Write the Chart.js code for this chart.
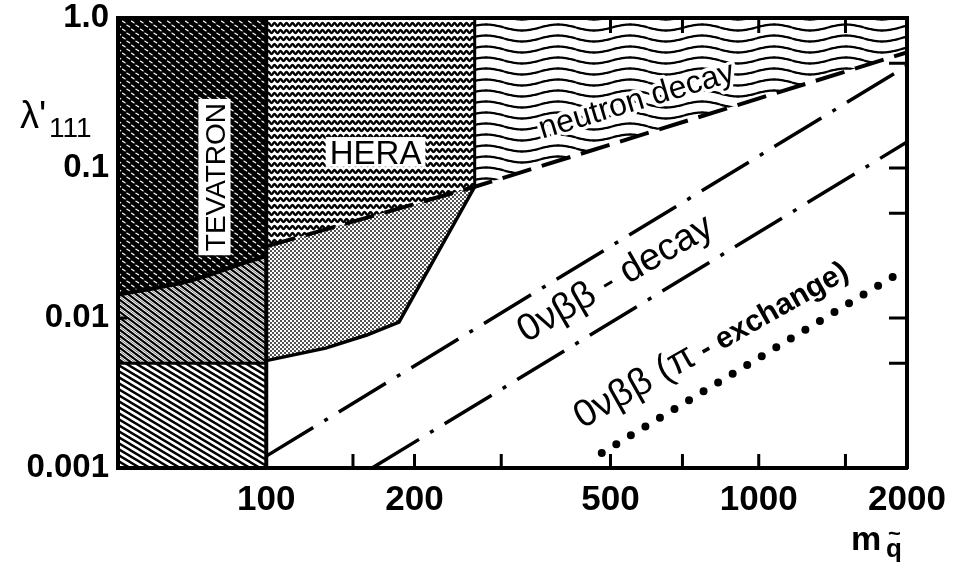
<!DOCTYPE html>
<html>
<head>
<meta charset="utf-8">
<script src="https://cdn.jsdelivr.net/npm/chart.js@4.4.1/dist/chart.umd.min.js"></script>
<style>
  html, body { margin: 0; padding: 0; background: #fff; }
  #wrap { width: 968px; height: 567px; }
</style>
</head>
<body>
<div id="wrap"><canvas id="limits" width="968" height="567"></canvas></div>
<script>
// axis ticks
const massTicks = [100, 200, 500, 1000, 2000];
const couplingTicks = [0.001, 0.01, 0.1, 1];
const couplingTickLabels = ['0.001', '0.01', '0.1', '1.0'];
const bottomMinorMasses = [150, 200, 300, 500, 700, 1000, 1500];
const topMinorMasses = [500, 700, 1000, 1500];
const rightMinorCouplings = [0.005, 0.01, 0.05, 0.1, 0.5];
const leftMinorCouplings = [0.01];

// TEVATRON excluded region (lower edge)
const tevatronMass = [50, 69, 89, 100];
const tevatronLimit = [0.0143, 0.0175, 0.023, 0.026];
// hatched split between the two low-mass bands
const splitMass = [50, 100];
const splitLimit = [0.005, 0.005];
// neutron decay bound
const neutronMass = [100, 265, 2000];
const neutronLimit = [0.03, 0.075, 0.59];
// HERA contact region lower edge
const heraMass = [100, 132, 160, 186, 265];
const heraLimit = [0.0052, 0.0063, 0.0077, 0.0094, 0.075];
// HERA right edge
const heraEdgeMass = [265, 265];
const heraEdgeLimit = [0.075, 1];
// 0vbb decay, two bands
const dbdUpperMass = [100, 2000];
const dbdUpperLimit = [0.0012, 0.48];
const dbdLowerMass = [164, 2000];
const dbdLowerLimit = [0.001, 0.149];
// 0vbb pion exchange
const pionMass = [480, 1930];
const pionLimit = [0.00126, 0.02];
// vertical line at 100 GeV
const wallMass = [100, 100];
const wallLimit = [0.001, 1];

const pts = (xs, ys) => xs.map((v, i) => ({ x: v, y: ys[i] }));

const canvas = document.getElementById('limits');
const ctx0 = canvas.getContext('2d');

function makePattern(w, h, draw) {
  const c = document.createElement('canvas');
  c.width = w; c.height = h;
  const g = c.getContext('2d');
  g.fillStyle = '#fff';
  g.fillRect(0, 0, w, h);
  draw(g, w, h);
  return ctx0.createPattern(c, 'repeat');
}

function hatch(g, w, h, lw) {
  g.strokeStyle = '#000';
  g.lineWidth = lw;
  g.beginPath();
  for (let k = -2; k <= 2; k++) {
    g.moveTo(k * w - w, -h);
    g.lineTo(k * w + 2 * w, 2 * h);
  }
  g.stroke();
}

const tevatronFill = makePattern(9, 8, (g, w, h) => {
  g.fillStyle = '#000';
  g.fillRect(0, 0, w, h);
  g.strokeStyle = '#fff';
  g.lineWidth = 1.3;
  g.lineCap = 'round';
  g.beginPath();
  g.moveTo(1, 1.2); g.lineTo(3.6, 2.8);
  g.moveTo(5.6, 5.2); g.lineTo(8, 6.8);
  g.stroke();
});

const heraFill = makePattern(6, 7, (g, w, h) => {
  g.strokeStyle = '#000';
  g.lineWidth = 2.3;
  g.beginPath();
  for (let x = -1; x <= w + 1; x += 0.5) {
    const y = 3.5 + 1.4 * Math.sin(2 * Math.PI * x / w);
    if (x === -1) g.moveTo(x, y); else g.lineTo(x, y);
  }
  g.stroke();
});

const stippleFill = makePattern(4, 4, (g) => {
  g.fillStyle = '#000';
  [[1, 1], [3, 3]].forEach(([x, y]) => {
    g.beginPath(); g.arc(x, y, 0.9, 0, 2 * Math.PI); g.fill();
  });
});

const fineHatchFill = makePattern(8, 6, (g, w, h) => {
  g.save();
  g.translate(w / 2, 0);
  g.strokeStyle = '#777';
  g.lineWidth = 1;
  g.beginPath();
  for (let k = -2; k <= 2; k++) { g.moveTo(k * w - w, -h); g.lineTo(k * w + 2 * w, 2 * h); }
  g.stroke();
  g.restore();
  hatch(g, w, h, 2.2);
});

const coarseHatchFill = makePattern(10, 6, (g, w, h) => hatch(g, w, h, 2.4));

const neutronFill = makePattern(72, 11, (g, w, h) => {
  g.strokeStyle = '#000';
  g.lineWidth = 2.3;
  [-h, 0, h].forEach(oy => {
    g.beginPath();
    for (let x = 0; x <= w; x += 1) {
      const y = oy + h / 2 + 3 * Math.sin(2 * Math.PI * x / w);
      if (x === 0) g.moveTo(x, y); else g.lineTo(x, y);
    }
    g.stroke();
  });
});

const line = (data, width, extra) => Object.assign({
  data, borderColor: '#000', borderWidth: width, pointRadius: 0,
  fill: false, tension: 0, order: 0
}, extra || {});
const area = (data, fill, bg) => ({
  data, fill, backgroundColor: bg, borderColor: 'rgba(0,0,0,0)',
  borderWidth: 0, pointRadius: 0, tension: 0, order: 10
});

const datasets = [];
datasets.push(line(pts(neutronMass, neutronLimit), 4, { borderDash: [30, 11] }));
datasets.push(line(pts(tevatronMass, tevatronLimit), 4, { tension: 0.3 }));
datasets.push(line(pts(splitMass, splitLimit), 3));
datasets.push(line(pts(heraMass, heraLimit), 3.5));
datasets.push(line(pts(wallMass, wallLimit), 4));
datasets.push(line(pts(heraEdgeMass, heraEdgeLimit), 3));
datasets.push(line(pts(dbdUpperMass, dbdUpperLimit), 3.5, { borderDash: [55, 13, 4, 13] }));
datasets.push(line(pts(dbdLowerMass, dbdLowerLimit), 3.5, { borderDash: [55, 13, 4, 13] }));
datasets.push(line(pts(pionMass, pionLimit), 8, { borderDash: [0, 17], borderCapStyle: 'round' }));

const tevIdx = datasets.push(area(pts(tevatronMass, tevatronLimit), 'end', tevatronFill)) - 1;
datasets[tevIdx].tension = 0.3;
datasets.push(area(pts(splitMass, splitLimit), tevIdx, fineHatchFill));
datasets.push(area(pts(splitMass, splitLimit), 'start', coarseHatchFill));
const heraIdx = datasets.push(area(pts(neutronMass.slice(0, 2), neutronLimit.slice(0, 2)), 'end', heraFill)) - 1;
datasets.push(area(pts(heraMass, heraLimit), heraIdx, stippleFill));
datasets.push(area(pts(neutronMass.slice(1), neutronLimit.slice(1)), 'end', neutronFill));

const FONT = '"Liberation Sans", Arial, Helvetica, sans-serif';

const tickMarks = {
  id: 'tickMarks',
  afterDatasetsDraw(chart) {
    const { ctx, chartArea: a, scales: { x, y } } = chart;
    ctx.save();
    ctx.strokeStyle = '#000';
    ctx.lineWidth = 3;
    ctx.beginPath();
    bottomMinorMasses.forEach(m => {
      const px = x.getPixelForValue(m);
      ctx.moveTo(px, a.bottom); ctx.lineTo(px, a.bottom - 14);
    });
    topMinorMasses.forEach(m => {
      const px = x.getPixelForValue(m);
      ctx.moveTo(px, a.top); ctx.lineTo(px, a.top + 15);
    });
    rightMinorCouplings.forEach(v => {
      const py = y.getPixelForValue(v);
      ctx.moveTo(a.right, py); ctx.lineTo(a.right - 18, py);
    });
    leftMinorCouplings.forEach(v => {
      const py = y.getPixelForValue(v);
      ctx.moveTo(a.left, py); ctx.lineTo(a.left + 9, py);
    });
    ctx.stroke();
    ctx.restore();
  }
};

function boxedText(ctx, text, cx, cy, angle, size, padLong, padShort) {
  ctx.save();
  ctx.translate(cx, cy);
  ctx.rotate(angle * Math.PI / 180);
  ctx.font = `${size}px ${FONT}`;
  const w = ctx.measureText(text).width;
  const cap = size * 0.72;
  ctx.fillStyle = '#fff';
  ctx.fillRect(-w / 2 - padLong, -cap / 2 - padShort, w + 2 * padLong, cap + 2 * padShort);
  ctx.fillStyle = '#000';
  ctx.textAlign = 'center';
  ctx.textBaseline = 'alphabetic';
  ctx.fillText(text, 0, cap / 2);
  ctx.restore();
}

function slantText(ctx, parts, x0, y0, angle, align, halo) {
  ctx.save();
  ctx.translate(x0, y0);
  ctx.rotate(angle * Math.PI / 180);
  ctx.textBaseline = 'alphabetic';
  ctx.textAlign = 'left';
  let total = 0;
  parts.forEach(p => { ctx.font = p.font; total += ctx.measureText(p.text).width; });
  let cur = align === 'center' ? -total / 2 : 0;
  parts.forEach(p => {
    ctx.font = p.font;
    if (halo) {
      ctx.strokeStyle = '#fff';
      ctx.lineWidth = halo;
      ctx.lineJoin = 'round';
      ctx.strokeText(p.text, cur, 0);
    }
    ctx.fillStyle = '#000';
    ctx.fillText(p.text, cur, 0);
    cur += ctx.measureText(p.text).width;
  });
  ctx.restore();
}

const annotations = {
  id: 'annotations',
  afterDraw(chart) {
    const { ctx, scales: { x, y } } = chart;
    const X = v => x.getPixelForValue(v);
    const Y = v => y.getPixelForValue(v);

    boxedText(ctx, 'TEVATRON', X(78.5), Y(0.087), -90, 28, 4, 6);
    boxedText(ctx, 'HERA', X(166.7), Y(0.128), 0, 33, 4, 3);

    slantText(ctx, [{ text: 'neutron decay', font: `32px ${FONT}` }], X(572), Y(0.245), -16.7, 'center', 7);
    slantText(ctx, [{ text: '0νββ - decay', font: `38px ${FONT}` }], X(525), Y(0.0158), -30, 'center');
    slantText(ctx, [
      { text: '0νββ (π', font: `38px ${FONT}` },
      { text: ' - exchange)', font: `bold 30px ${FONT}` }
    ], X(438), Y(0.00182), -29.5, 'left');

    // axis titles
    ctx.save();
    ctx.fillStyle = '#000';
    ctx.textBaseline = 'alphabetic';
    ctx.textAlign = 'left';
    ctx.font = `38px ${FONT}`;
    ctx.fillText("λ'", 20, 128);
    ctx.font = `28px ${FONT}`;
    ctx.fillText('111', 49, 137);
    ctx.font = `bold 34px ${FONT}`;
    ctx.fillText('m', 851, 550);
    ctx.font = `bold 26px ${FONT}`;
    ctx.fillText('q', 886, 557);
    ctx.font = `bold 22px ${FONT}`;
    ctx.fillText('~', 888, 541);
    ctx.restore();
  }
};

const tickFont = size => ({ family: FONT, size, weight: 'bold' });
const noPad = s => { s.paddingTop = 0; s.paddingBottom = 0; s.paddingLeft = 0; s.paddingRight = 0; };

new Chart(canvas, {
  type: 'line',
  data: { datasets },
  options: {
    responsive: false,
    animation: false,
    devicePixelRatio: 1,
    layout: { padding: 0 },
    plugins: {
      legend: { display: false },
      tooltip: { enabled: false },
      filler: { drawTime: 'beforeDatasetDraw' }
    },
    scales: {
      x: {
        type: 'logarithmic', position: 'bottom', min: 50, max: 2000,
        afterBuildTicks: s => { s.ticks = massTicks.map(v => ({ value: v })); },
        afterFit: s => { s.height = 99; noPad(s); },
        ticks: {
          callback: v => String(v), color: '#000', font: tickFont(35),
          padding: 11, maxRotation: 0, autoSkip: false
        },
        grid: { display: false, drawTicks: false },
        border: { display: true, color: '#000', width: 4, z: 1 }
      },
      x2: {
        type: 'logarithmic', position: 'top', min: 50, max: 2000,
        afterFit: s => { s.height = 18; noPad(s); },
        ticks: { display: false },
        grid: { display: false, drawTicks: false },
        border: { display: true, color: '#000', width: 4, z: 1 }
      },
      y: {
        type: 'logarithmic', position: 'left', min: 0.001, max: 1,
        afterBuildTicks: s => { s.ticks = couplingTicks.map(v => ({ value: v })); },
        afterFit: s => { s.width = 118; noPad(s); },
        ticks: {
          callback: v => couplingTickLabels[couplingTicks.indexOf(v)],
          color: '#000', font: tickFont(33), padding: 9, autoSkip: false
        },
        grid: { display: false, drawTicks: false },
        border: { display: true, color: '#000', width: 4, z: 1 }
      },
      y2: {
        type: 'logarithmic', position: 'right', min: 0.001, max: 1,
        afterFit: s => { s.width = 61; noPad(s); },
        ticks: { display: false },
        grid: { display: false, drawTicks: false },
        border: { display: true, color: '#000', width: 4, z: 1 }
      }
    }
  },
  plugins: [tickMarks, annotations]
});
</script>
</body>
</html>
